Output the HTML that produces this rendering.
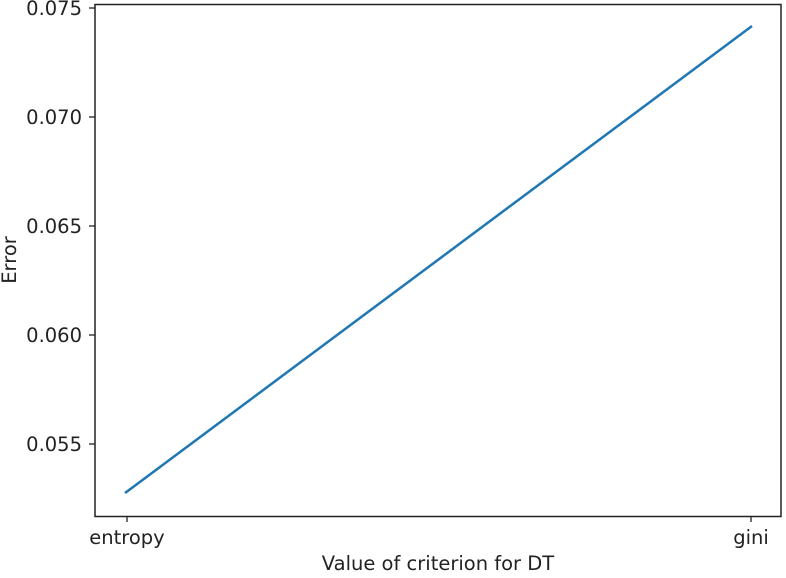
<!DOCTYPE html>
<html><head><style>body{margin:0;background:#fff}</style></head><body>
<svg width="786" height="573" xmlns="http://www.w3.org/2000/svg" font-family="DejaVu Sans, sans-serif" font-size="19.5" fill="#222">
<rect x="95" y="4.5" width="686" height="512" fill="none" stroke="#222" stroke-width="1.5"/>
<polyline points="125,493 752,26" stroke="#1f77b4" stroke-width="2.5" fill="none"/>
<g stroke="#222" stroke-width="1.3">
<line x1="89" y1="8" x2="95" y2="8"/><line x1="89" y1="117" x2="95" y2="117"/>
<line x1="89" y1="226" x2="95" y2="226"/><line x1="89" y1="335" x2="95" y2="335"/>
<line x1="89" y1="444" x2="95" y2="444"/>
<line x1="127" y1="516" x2="127" y2="522"/><line x1="751" y1="516" x2="751" y2="522"/>
</g>
<g text-anchor="end">
<text x="82" y="15">0.075</text><text x="82" y="124">0.070</text>
<text x="82" y="233">0.065</text><text x="82" y="342">0.060</text>
<text x="82" y="451">0.055</text>
</g>
<g text-anchor="middle">
<text x="127" y="544">entropy</text><text x="751" y="544">gini</text>
<text x="438" y="570">Value of criterion for DT</text>
<text transform="translate(16,260) rotate(-90)">Error</text>
</g>
</svg>
</body></html>
